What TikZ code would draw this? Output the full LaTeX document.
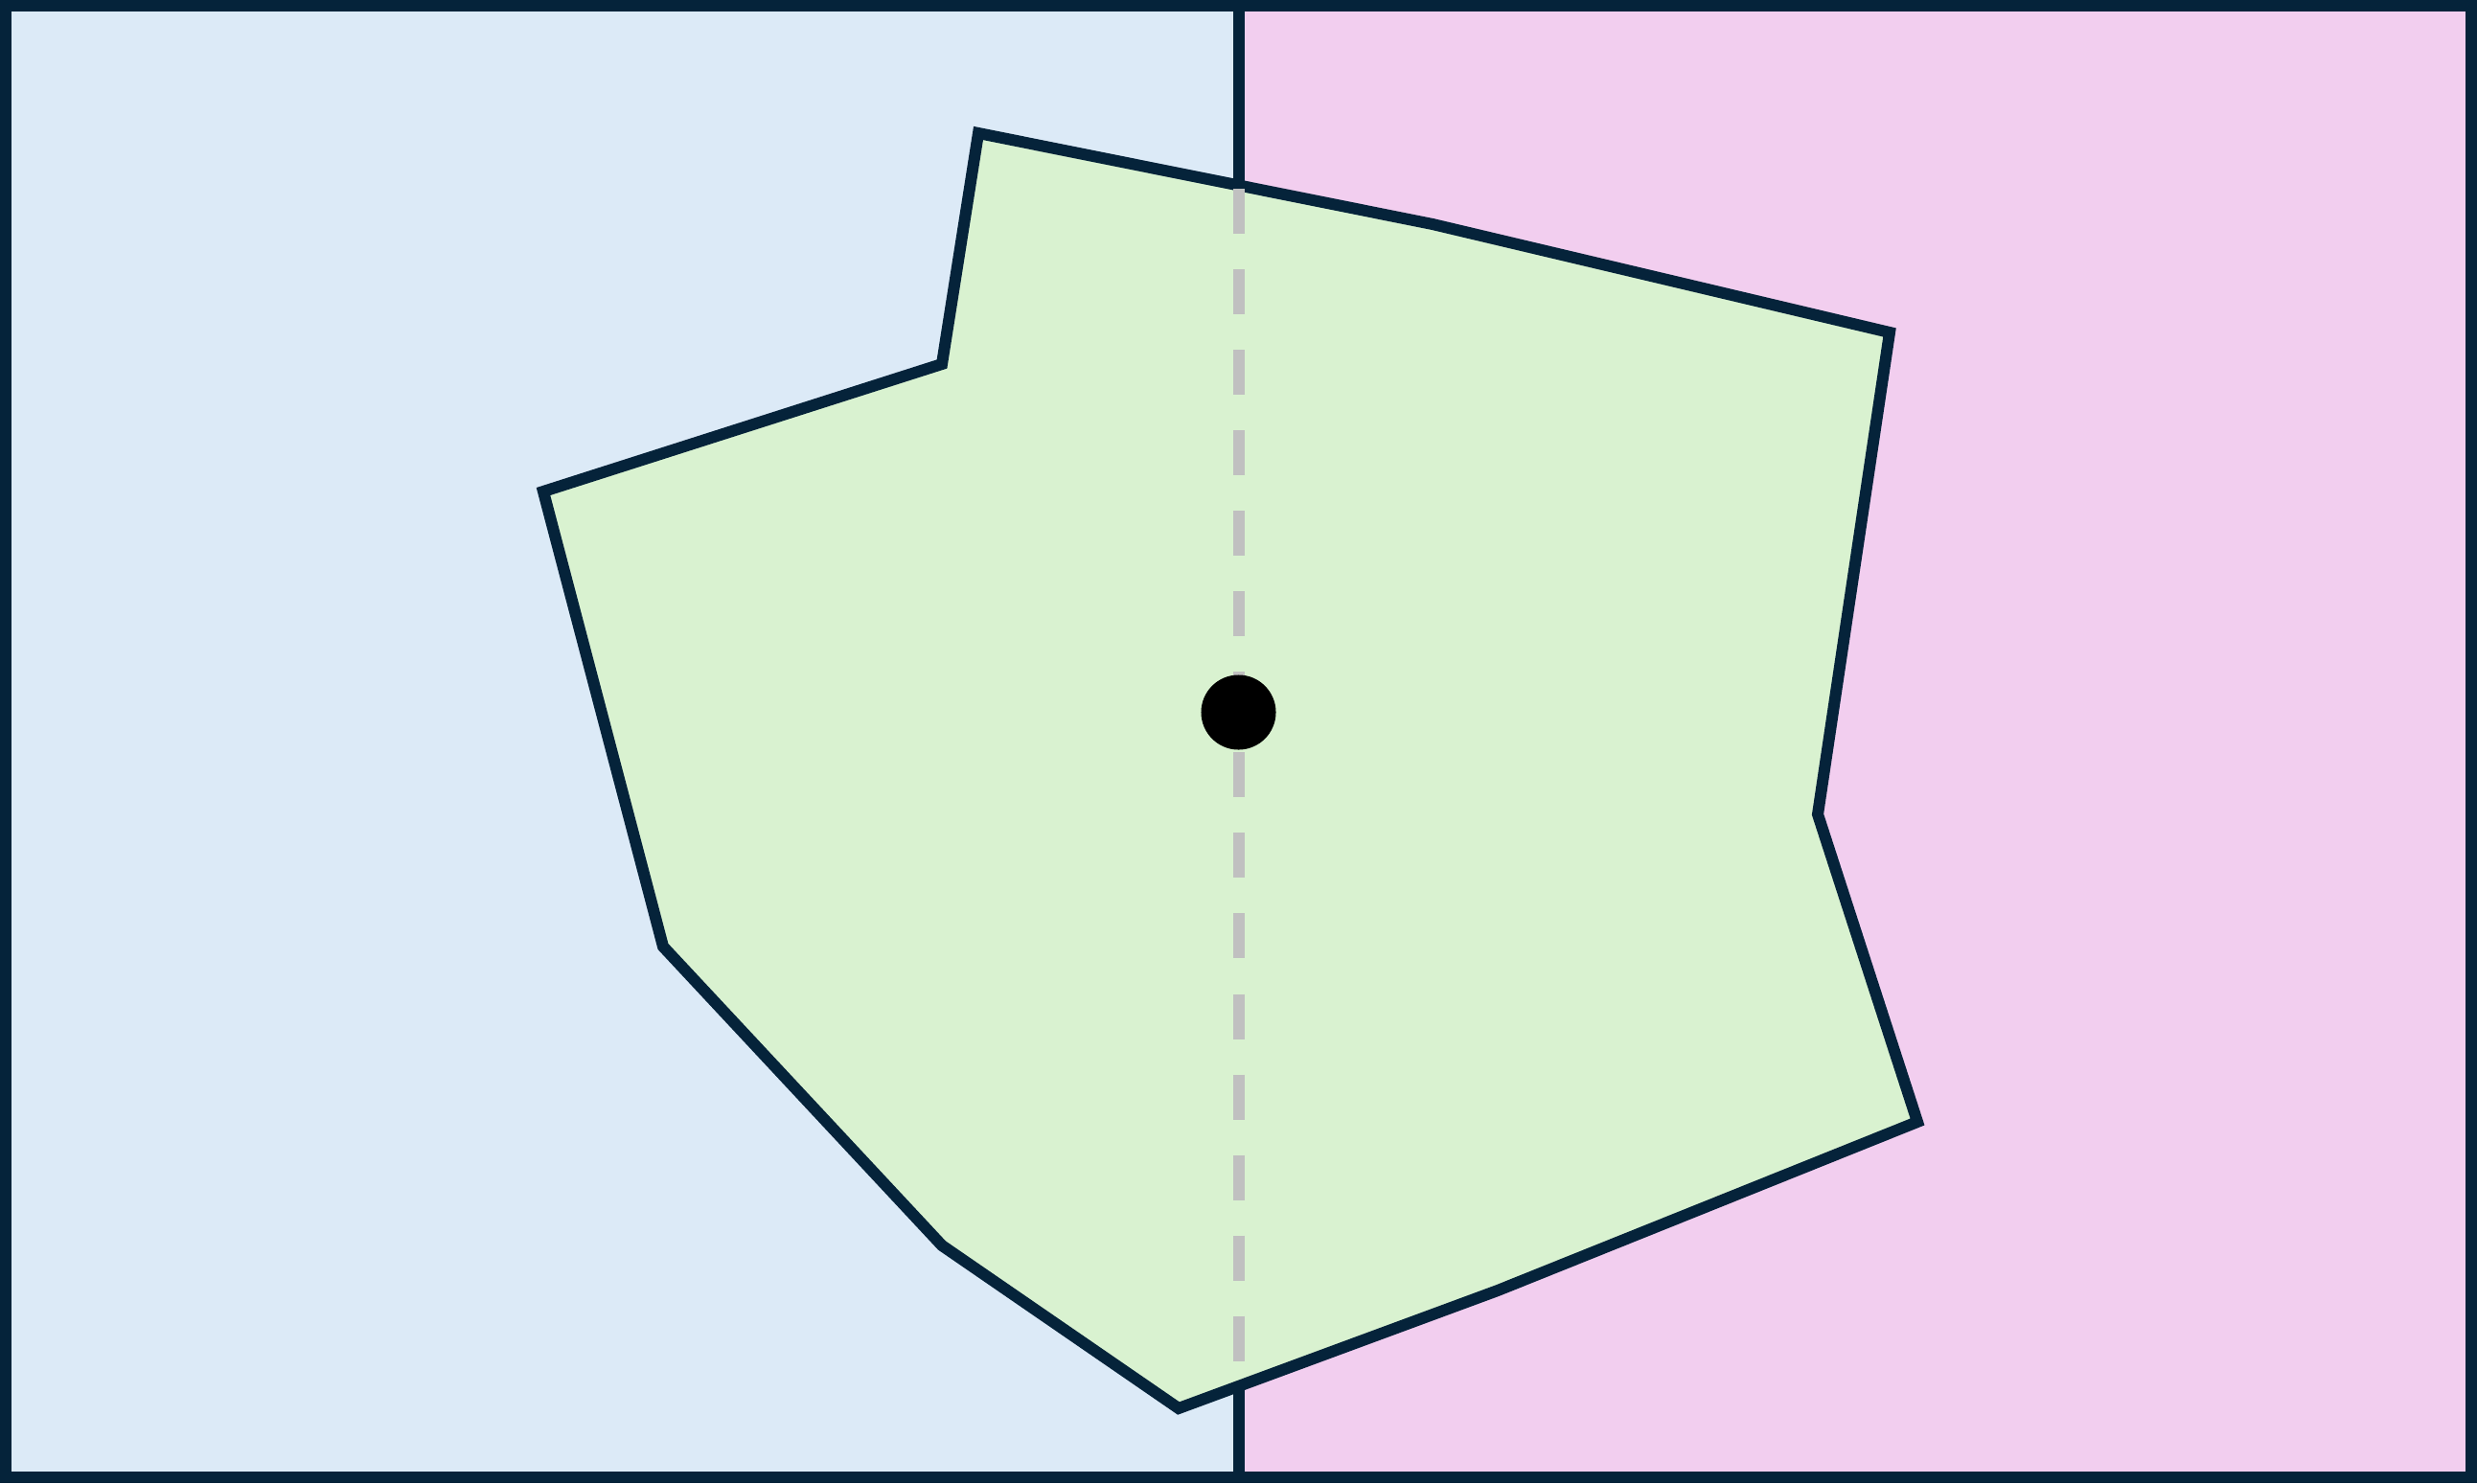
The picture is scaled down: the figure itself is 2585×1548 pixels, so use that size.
\documentclass[tikz,border=0pt]{standalone}
\usepackage{tikz}
\definecolor{edgec}{HTML}{05233A}
\definecolor{leftc}{HTML}{DCEAF7}
\definecolor{rightc}{HTML}{F2CEEF}
\definecolor{polyc}{HTML}{D9F2D0}
\definecolor{dashc}{HTML}{C0C0C0}
\begin{document}
\begin{tikzpicture}[x=0.01cm,y=-0.01cm,
  outline/.style={draw=edgec,line width=0.12cm},
  region/.style={outline,fill=polyc,line join=miter},
  midline/.style={draw=dashc,line width=0.12cm,dash pattern=on 0.47cm off 0.37cm}]
\useasboundingbox (0,0) rectangle (2585,1548);
\fill[leftc] (0,0) rectangle (1292.5,1548);
\fill[rightc] (1292.5,0) rectangle (2585,1548);
\draw[outline] (1292.5,6) -- (1292.5,1542);
\coordinate (p1) at (1021,139);
\coordinate (p2) at (1495,234);
\coordinate (p3) at (1972,347);
\coordinate (p4) at (1897,850);
\coordinate (p5) at (2001,1171);
\coordinate (p6) at (1563,1347);
\coordinate (p7) at (1230,1470);
\coordinate (p8) at (983,1300);
\coordinate (p9) at (692,988);
\coordinate (p10) at (567,513);
\coordinate (p11) at (983,380);
\draw[region] (p1) -- (p2) -- (p3) -- (p4) -- (p5) -- (p6) -- (p7) -- (p8) -- (p9) -- (p10) -- (p11) -- cycle;
\coordinate (dtop) at (1292.5,197);
\coordinate (dbot) at (1292.5,1446);
\draw[midline] (dtop) -- (dbot);
\fill[black] (1292.5,743.5) circle[radius=0.39cm];
\draw[outline] (6,6) rectangle (2579,1542);
\end{tikzpicture}
\end{document}
